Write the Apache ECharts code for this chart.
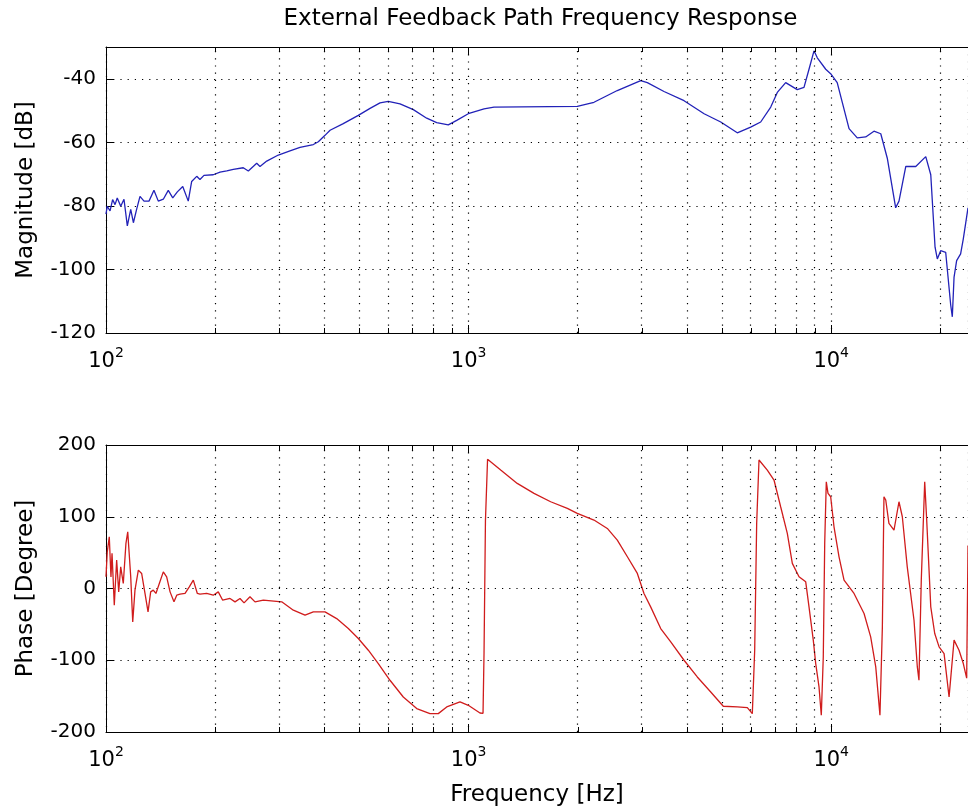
<!DOCTYPE html>
<html><head><meta charset="utf-8">
<script src="https://cdn.jsdelivr.net/npm/echarts@6/dist/echarts.min.js"></script>
<style>html,body{margin:0;padding:0;background:#fff}#c{width:968px;height:812px}</style>
</head><body><div id="c"></div>
<script>
const titleText = 'External Feedback Path Frequency Response';
const xName = 'Frequency [Hz]';
const magName = 'Magnitude [dB]';
const phaseName = 'Phase [Degree]';
const freqMin = 100, freqMax = 23840;
const magMin = -120, magMax = -30, magStep = 20;
const phaseMin = -200, phaseMax = 200, phaseStep = 100;
const minorTicks = [200,300,400,500,600,700,800,900,2000,3000,4000,5000,6000,7000,8000,9000,20000];

const magFreq = [100,100.8,102.6,104.3,105.9,107.4,109.8,112.1,114.5,117.0,119.0,121.5,124.1,127.3,131.4,135.6,139.4,143.9,148.5,152.8,157.3,162.8,168.6,172.3,177.9,181.6,186.3,197.6,206.3,215.3,224.4,239.1,246.9,260.4,265.9,277.5,298.7,321.7,342.8,373.1,385.1,401.8,414.9,451.2,496.4,534.8,569.8,600.5,647.0,704.0,766.4,816.6,879.0,927.3,998,1103,1175,1994,2217,2571,2983,3111,3459,3928,4462,4959,5508,5998,6391,6812,7102,7490,8061,8414,8686,8966,9156,9659,10000,10390,10730,11200,11800,12450,13120,13700,14280,15060,15380,16060,17110,18230,18820,19340,19620,20040,20690,21360,21580,21820,22180,22750,23140,23840];
const magDb = [-82.6,-80.1,-81.6,-78.0,-79.6,-77.5,-80.1,-77.9,-86.3,-81.1,-85.3,-81.0,-77.0,-78.5,-78.5,-75.1,-78.5,-77.9,-75.1,-77.5,-75.6,-73.9,-78.5,-72.3,-70.7,-71.7,-70.4,-70.2,-69.4,-69.0,-68.5,-68.0,-69.0,-66.6,-67.6,-65.9,-64.0,-62.7,-61.6,-60.7,-59.8,-57.8,-56.2,-54.1,-51.5,-49.3,-47.6,-47.1,-47.9,-49.7,-52.4,-53.8,-54.5,-53.1,-51.0,-49.5,-48.9,-48.7,-47.4,-43.7,-40.6,-41.2,-44.0,-46.9,-51.0,-53.6,-57.0,-55.2,-53.6,-48.9,-44.3,-41.2,-43.4,-42.7,-37.0,-31.2,-33.4,-37.0,-38.6,-41.2,-47.4,-55.7,-58.6,-58.3,-56.5,-57.3,-65.0,-80.6,-78.5,-67.6,-67.6,-64.5,-70.2,-93.0,-96.7,-94.1,-94.6,-111.2,-114.9,-102.4,-97.2,-95.1,-90.4,-80.6];

const phaseFreq = [100,100.8,102.1,103.2,103.9,105.4,107.0,108.4,109.8,111.6,113.5,114.8,117.0,118.5,120.2,122.8,125.4,128.1,130.6,132.8,135.0,137.3,140.3,143.9,147.0,150.2,154.0,156.7,160.0,165.2,169.7,174.1,178.6,181.6,189.5,197.6,204.0,209.8,219.8,226.9,234.2,240.3,249.5,257.6,271.6,305.2,328.6,353.9,373.1,401.8,432.7,465.9,496.4,529.0,563.6,607.0,660.5,719.3,782.5,824.9,870.3,946.9,998,1075,1096,1103,1113,1128,1138,1226,1362,1515,1684,1872,1994,2217,2413,2571,2741,2920,3046,3178,3387,3610,3928,4273,4654,5040,5508,5871,6060,6152,6230,6323,6665,6955,7255,7568,7813,8152,8506,8686,8925,9064,9256,9391,9510,9597,9694,9800,9968,10180,10510,10850,11560,12320,12850,13270,13630,13840,13980,14140,14430,14900,15380,15710,16210,16920,17280,17460,17720,18110,18340,18820,19300,19840,20480,21140,21820,22520,23140,23640,23840];
const phaseDeg = [16.3,51.1,72.1,16.0,49.0,-23.2,39.6,-4.7,30.2,7.0,62.9,79.0,16.3,-46.5,-2.3,25.6,21.0,-6.9,-32.6,-4.7,-2.3,-6.9,7.0,23.2,16.3,-4.7,-18.6,-9.3,-7.9,-6.9,2.3,11.6,-6.9,-7.9,-6.9,-9.3,-4.7,-16.3,-13.9,-18.6,-13.9,-20.0,-11.6,-18.6,-16.3,-18.6,-30.2,-37.2,-32.6,-32.6,-41.9,-55.8,-69.7,-86.0,-104.6,-127.9,-151.2,-167.4,-174.4,-174.4,-165.1,-158.1,-162.8,-173.5,-174.0,-90.0,95.0,180.0,178.0,165.1,146.5,132.6,120.9,111.6,104.7,95.4,83.7,67.5,44.2,21.0,-6.9,-25.6,-55.8,-74.4,-100.0,-123.3,-144.2,-164.1,-165.1,-166.0,-174.4,-86.0,90.7,179.1,165.1,151.2,113.9,76.8,35.0,16.3,9.3,-25.6,-72.0,-104.6,-137.2,-176.7,-95.4,62.9,148.8,132.6,127.9,86.0,44.2,11.6,-6.9,-34.8,-67.4,-109.3,-176.7,-53.5,127.9,123.3,90.7,81.4,120.9,100.0,30.2,-44.2,-109.3,-127.9,11.6,148.8,95.4,-25.6,-62.7,-81.4,-90.7,-151.2,-72.0,-86.0,-104.6,-125.0,60.0];

const FONT = 'DejaVu Sans';
const gridDot = {color:'#000', width:1.2, type:[1.2,6]};

function fmtPow(v){
  const l = Math.log10(v), e = Math.round(l);
  if (Math.abs(l - e) > 1e-6) return '';
  return '{b|10}{s|' + e + '}';
}
const powRich = {
  b:{fontFamily:FONT, fontSize:21, color:'#000', lineHeight:32},
  s:{fontFamily:FONT, fontSize:14, color:'#000', lineHeight:14, verticalAlign:'top'}
};

function bottomX(g, withName){
  const ax = {
    type:'log', logBase:10, gridIndex:g, min:freqMin, max:freqMax, position:'bottom',
    axisLine:{show:true, onZero:false, lineStyle:{color:'#000', width:1}},
    axisTick:{show:true, inside:true, length:8, lineStyle:{color:'#000', width:1}},
    axisLabel:{margin:13, formatter:fmtPow, rich:powRich, showMinLabel:true, showMaxLabel:true},
    splitLine:{show:true, lineStyle:gridDot}
  };
  if (withName){
    ax.name = xName; ax.nameLocation = 'middle'; ax.nameGap = 52;
    ax.nameTextStyle = {fontFamily:FONT, fontSize:23, color:'#000'};
  }
  return ax;
}
function topX(g){
  return {
    type:'log', logBase:10, gridIndex:g, min:freqMin, max:freqMax, position:'top',
    axisLine:{show:true, onZero:false, lineStyle:{color:'#000', width:1}},
    axisTick:{show:true, inside:true, length:8, lineStyle:{color:'#000', width:1}},
    axisLabel:{show:false}, splitLine:{show:false}
  };
}
function leftY(g, min, max, step, name){
  return {
    type:'value', gridIndex:g, min:min, max:max, interval:step, position:'left',
    axisLine:{show:true, onZero:false, lineStyle:{color:'#000', width:1}},
    axisTick:{show:true, inside:true, length:8, lineStyle:{color:'#000', width:1}},
    axisLabel:{margin:10, fontFamily:FONT, fontSize:20, color:'#000', showMaxLabel: (max % step === 0)},
    splitLine:{show:true, lineStyle:gridDot},
    name:name, nameLocation:'middle', nameGap:68, nameRotate:90,
    nameTextStyle:{fontFamily:FONT, fontSize:23, color:'#000'}
  };
}
function minorTickSeries(xi, yi, yLo, yHi){
  return {
    type:'custom', xAxisIndex:xi, yAxisIndex:yi, silent:true, clip:false, z:5,
    data: minorTicks.map(v => [v, yLo]),
    renderItem:function(params, api){
      const x = api.value(0);
      const b = api.coord([x, yLo]), t = api.coord([x, yHi]);
      const px = Math.round(b[0]) + 0.5;
      const st = {stroke:'#000', lineWidth:1};
      return {type:'group', children:[
        {type:'line', shape:{x1:px, y1:b[1], x2:px, y2:b[1]-5}, style:st},
        {type:'line', shape:{x1:px, y1:t[1], x2:px, y2:t[1]+5}, style:st}
      ]};
    }
  };
}
function minorGrid(){
  return {silent:true, symbol:['none','none'], label:{show:false}, lineStyle:gridDot,
    emphasis:{disabled:true}, animation:false,
    data: minorTicks.map(v => ({xAxis:v}))};
}

const chart = echarts.init(document.getElementById('c'), null, {renderer:'canvas'});
chart.setOption({
  animation:false,
  backgroundColor:'#fff',
  title:{text:titleText, left:535.5, top:3, textAlign:'center',
    textStyle:{fontFamily:FONT, fontSize:23, fontWeight:'normal', color:'#000'}},
  grid:[
    {left:106, top:47, right:0, height:286, outerBoundsMode:'none'},
    {left:106, top:445, right:0, height:287, outerBoundsMode:'none'}
  ],
  xAxis:[bottomX(0,false), bottomX(1,true), topX(0), topX(1)],
  yAxis:[leftY(0, magMin, magMax, magStep, magName), leftY(1, phaseMin, phaseMax, phaseStep, phaseName)],
  series:[
    {type:'line', xAxisIndex:0, yAxisIndex:0, data: magFreq.map((f,i)=>[f, magDb[i]]),
      showSymbol:false, symbol:'none', lineStyle:{color:'#2222b8', width:1.3}, z:3,
      markLine: minorGrid()},
    {type:'line', xAxisIndex:1, yAxisIndex:1, data: phaseFreq.map((f,i)=>[f, phaseDeg[i]]),
      showSymbol:false, symbol:'none', lineStyle:{color:'#d01c1c', width:1.3}, z:3,
      markLine: minorGrid()},
    minorTickSeries(0, 0, magMin, magMax),
    minorTickSeries(1, 1, phaseMin, phaseMax)
  ]
});
</script></body></html>
